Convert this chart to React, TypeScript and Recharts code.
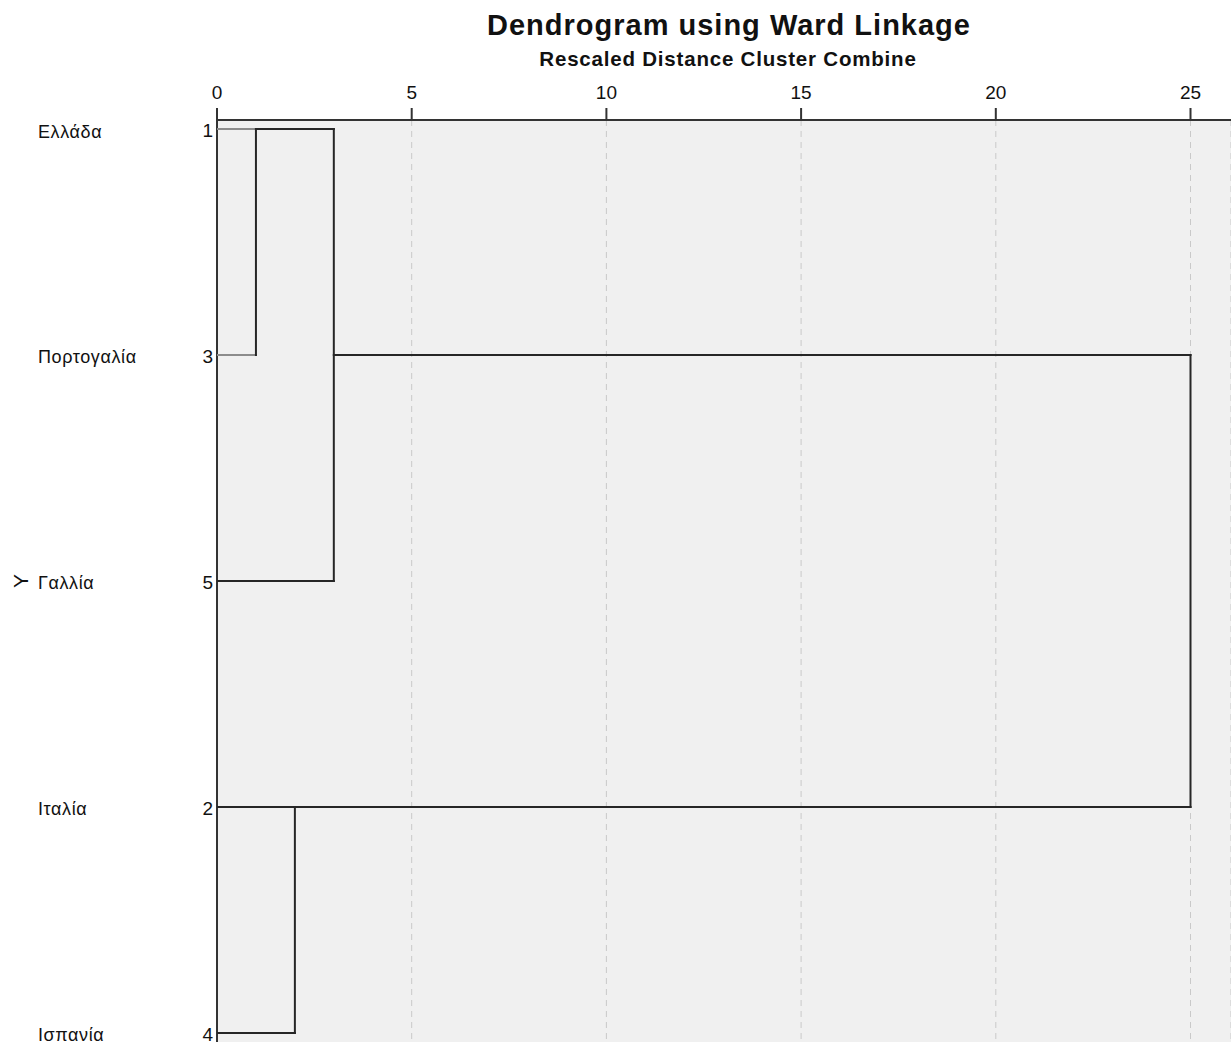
import React from "react";
import { ComposedChart, XAxis, YAxis, CartesianGrid, Scatter } from "recharts";

// ---- data ----
const leafNames = ["Ελλάδα", "Πορτογαλία", "Γαλλία", "Ιταλία", "Ισπανία"];
const caseNumbers = [1, 3, 5, 2, 4];
const leafRows = [0, 1, 2, 3, 4];
const xTicks = [0, 5, 10, 15, 20, 25];
const xDomainMax = 26.04;
const rowPad = 0.04;

// merges (rescaled distance at which they combine)
const linkHeights = [1, 3, 2, 25];
const linkTopRows = [0, 0, 3, 1];
const linkBottomRows = [1, 2, 4, 3];
const linkTopFrom = [0, 1, 0, 3];
const linkBottomFrom = [0, 0, 0, 2];

const titleText = "Dendrogram using Ward Linkage";
const subtitleText = "Rescaled Distance Cluster Combine";
const yTitle = "Y";

// ---- styling ----
const FONT = "'Liberation Sans', Arial, sans-serif";
const DARK = "#262626";
const LIGHT = "#8c8c8c";
const lightArmLinks = [0];

type Seg = { key: string; pts: { x: number; y: number }[]; color: string };

const arms: Seg[] = [];
const stems: Seg[] = [];
linkHeights.forEach((h, i) => {
  const armColor = lightArmLinks.includes(i) ? LIGHT : DARK;
  arms.push({
    key: `t${i}`,
    pts: [
      { x: linkTopFrom[i], y: linkTopRows[i] },
      { x: h, y: linkTopRows[i] },
    ],
    color: armColor,
  });
  arms.push({
    key: `b${i}`,
    pts: [
      { x: linkBottomFrom[i], y: linkBottomRows[i] },
      { x: h, y: linkBottomRows[i] },
    ],
    color: armColor,
  });
  stems.push({
    key: `s${i}`,
    pts: [
      { x: h, y: linkTopRows[i] },
      { x: h, y: linkBottomRows[i] },
    ],
    color: DARK,
  });
});
const segments = [...arms, ...stems];

const NoDot = () => <g />;

const LeafTick = (props: any) => {
  const { y, payload } = props;
  const i = payload.value as number;
  return (
    <g>
      <text
        x={38}
        y={y + 2}
        dy="0.36em"
        textAnchor="start"
        fontFamily={FONT}
        fontSize={18}
        letterSpacing={0.6}
        fill="#111"
      >
        {leafNames[i]}
      </text>
      <text
        x={213}
        y={y + 1}
        dy="0.36em"
        textAnchor="end"
        fontFamily={FONT}
        fontSize={19}
        fill="#111"
      >
        {caseNumbers[i]}
      </text>
    </g>
  );
};

const renderYTitle = (props: any) => {
  const vb = props.viewBox || {};
  const cy = (vb.y ?? 0) + (vb.height ?? 0) / 2;
  return (
    <text
      x={20}
      y={cy}
      transform={`rotate(-90, 20, ${cy})`}
      textAnchor="middle"
      dy="0.36em"
      fontFamily={FONT}
      fontSize={21}
      fill="#111"
    >
      {yTitle}
    </text>
  );
};

export default function App() {
  return (
    <div
      style={{
        position: "fixed",
        left: 0,
        top: 0,
        width: 1231,
        height: 1044,
        overflow: "hidden",
        background: "#ffffff",
      }}
    >
      <svg
        width={1231}
        height={80}
        style={{ position: "absolute", left: 0, top: 0 }}
      >
        <text
          x={729}
          y={35}
          textAnchor="middle"
          fontFamily={FONT}
          fontWeight="bold"
          fontSize={29}
          letterSpacing={1}
          fill="#111"
        >
          {titleText}
        </text>
        <text
          x={728}
          y={66}
          textAnchor="middle"
          fontFamily={FONT}
          fontWeight="bold"
          fontSize={20.5}
          letterSpacing={0.8}
          fill="#111"
        >
          {subtitleText}
        </text>
      </svg>
      <div style={{ position: "absolute", left: 0, top: 0 }}>
        <ComposedChart
          width={1231}
          height={1044}
          margin={{ top: 0, right: 0, bottom: 2, left: 0 }}
        >
          <CartesianGrid
            xAxisId="top"
            yAxisId="rows"
            horizontal={false}
            vertical={true}
            fill="#f0f0f0"
            stroke="#c9c9c9"
            strokeDasharray="6 5"
            strokeWidth={1}
          />
          <XAxis
            xAxisId="top"
            orientation="top"
            type="number"
            dataKey="x"
            domain={[0, xDomainMax]}
            allowDataOverflow
            ticks={xTicks}
            interval={0}
            height={120}
            tickSize={12}
            tickMargin={9}
            axisLine={{ stroke: "#333", strokeWidth: 2 }}
            tickLine={{ stroke: "#333", strokeWidth: 2 }}
            tick={{ fontFamily: FONT, fontSize: 19, fill: "#111" }}
          />
          <XAxis
            xAxisId="bottom"
            orientation="bottom"
            type="number"
            dataKey="x"
            domain={[0, xDomainMax]}
            allowDataOverflow
            height={0}
            tick={false}
            tickLine={false}
            axisLine={{ stroke: "#333", strokeWidth: 2 }}
          />
          <YAxis
            yAxisId="rows"
            type="number"
            dataKey="y"
            reversed
            domain={[-rowPad, leafRows.length - 1 + rowPad]}
            allowDataOverflow
            ticks={leafRows}
            interval={0}
            width={217}
            tickLine={false}
            axisLine={{ stroke: "#333", strokeWidth: 2 }}
            tick={<LeafTick />}
            label={renderYTitle}
          />
          {segments.map((s) => (
            <Scatter
              key={s.key}
              xAxisId="top"
              yAxisId="rows"
              data={s.pts}
              line={{ stroke: s.color, strokeWidth: 2, strokeLinecap: "square" }}
              lineType="joint"
              shape={<NoDot />}
              isAnimationActive={false}
            />
          ))}
        </ComposedChart>
      </div>
    </div>
  );
}
